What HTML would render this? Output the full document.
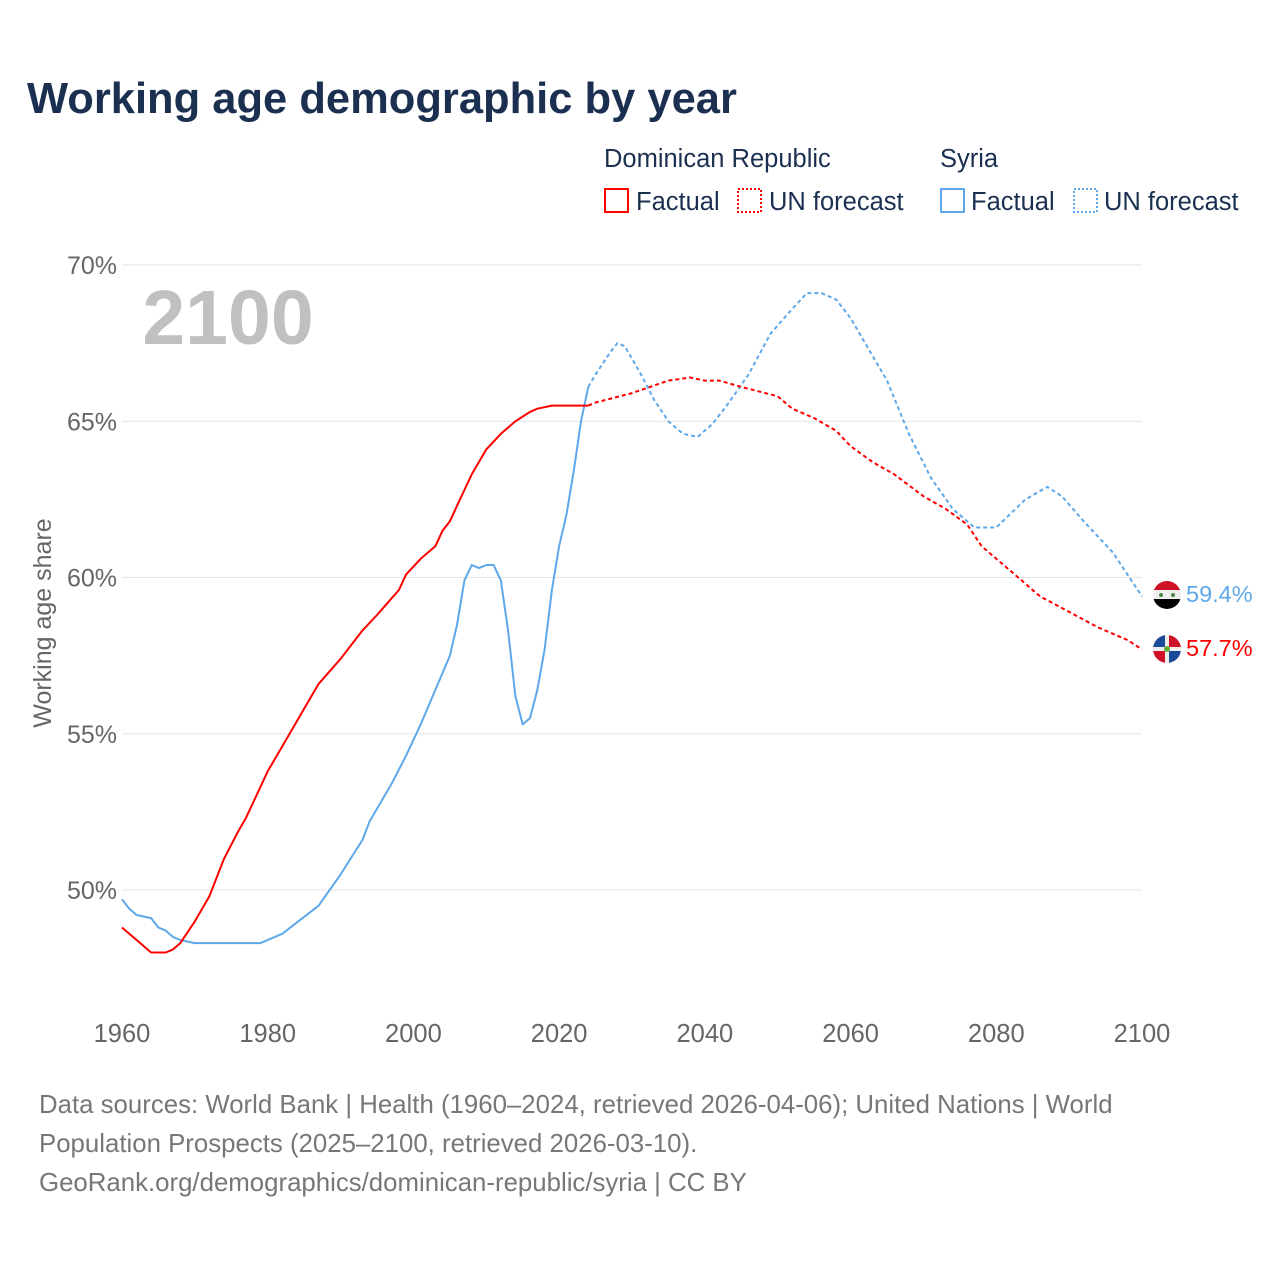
<!DOCTYPE html>
<html><head><meta charset="utf-8"><style>
body{margin:0;background:#fff;width:1280px;height:1280px;overflow:hidden;font-family:"Liberation Sans",sans-serif}
svg text{font-family:"Liberation Sans",sans-serif}
</style></head><body>
<svg id="chart" width="1280" height="1280">
<text x="27" y="113" font-size="43.5" font-weight="bold" fill="#1b3050">Working age demographic by year</text>
<g font-size="25.5" fill="#1b3050">
<text x="604" y="167">Dominican Republic</text>
<text x="940" y="167">Syria</text>
<g><rect x="605" y="189" width="23" height="23" fill="none" stroke="#f00" stroke-width="2"/><text x="636" y="210">Factual</text></g>
<g><rect x="738" y="189" width="23" height="23" fill="none" stroke="#f00" stroke-width="2" stroke-dasharray="2,2"/><text x="769" y="210">UN forecast</text></g>
<g><rect x="941" y="189" width="23" height="23" fill="none" stroke="#5ea8ea" stroke-width="2"/><text x="971" y="210">Factual</text></g>
<g><rect x="1074" y="189" width="23" height="23" fill="none" stroke="#5ea8ea" stroke-width="2" stroke-dasharray="2,2"/><text x="1104" y="210">UN forecast</text></g>
</g>
<text x="228" y="344" font-size="77" font-weight="bold" fill="#c0c0c0" text-anchor="middle">2100</text>
<text transform="translate(51,623) rotate(-90)" font-size="25" fill="#666" text-anchor="middle">Working age share</text>
<g id="grid"></g><g id="ticks"></g><g id="series"></g>
<g font-size="25.8" fill="#777">
<text x="39" y="1113">Data sources: World Bank | Health (1960–2024, retrieved 2026-04-06); United Nations | World</text>
<text x="39" y="1152">Population Prospects (2025–2100, retrieved 2026-03-10).</text>
<text x="39" y="1191">GeoRank.org/demographics/dominican-republic/syria | CC BY</text>
</g>
<defs><clipPath id="c1"><circle cx="1167" cy="595" r="14"/></clipPath><clipPath id="c2"><circle cx="1167" cy="649" r="14"/></clipPath></defs>
<g clip-path="url(#c1)"><rect x="1153" y="581" width="28" height="10" fill="#ce1126"/><rect x="1153" y="590" width="28" height="10" fill="#eee"/><rect x="1153" y="599" width="28" height="10" fill="#000"/><circle cx="1161" cy="595" r="2" fill="#4a8a4a"/><circle cx="1173" cy="595" r="2" fill="#4a8a4a"/></g>
<g clip-path="url(#c2)"><rect x="1153" y="635" width="28" height="28" fill="#eee"/><rect x="1153" y="635" width="12" height="12" fill="#1a4a9a"/><rect x="1169" y="635" width="12" height="12" fill="#ce1126"/><rect x="1153" y="651" width="12" height="12" fill="#ce1126"/><rect x="1169" y="651" width="12" height="12" fill="#1a4a9a"/><circle cx="1167" cy="649" r="3" fill="#6a3"/></g>
<text x="1186" y="602" font-size="23.5" fill="#5ea8ea">59.4%</text>
<text x="1186" y="656" font-size="23.5" fill="#f00">57.7%</text>
</svg>
<script>
const xTicks=[1960,1980,2000,2020,2040,2060,2080,2100];
const yTicks=[50,55,60,65,70];
const drFactYears=[1960,1962,1964,1966,1967,1968,1970,1972,1974,1976,1977,1980,1983,1985,1987,1990,1992,1993,1995,1998,1999,2001,2003,2004,2005,2006,2007,2008,2009,2010,2012,2014,2016,2017,2019,2024];
const drFactVals=[48.8,48.4,48.0,48.0,48.1,48.3,49.0,49.8,51.0,51.9,52.3,53.8,55.0,55.8,56.6,57.4,58.0,58.3,58.8,59.6,60.1,60.6,61.0,61.5,61.8,62.3,62.8,63.3,63.7,64.1,64.6,65.0,65.3,65.4,65.5,65.5];
const drFcYears=[2024,2025,2030,2035,2038,2040,2042,2045,2050,2052,2055,2058,2060,2063,2066,2070,2073,2076,2078,2082,2086,2090,2094,2098,2100];
const drFcVals=[65.5,65.6,65.9,66.3,66.4,66.3,66.3,66.1,65.8,65.4,65.1,64.7,64.2,63.7,63.3,62.6,62.2,61.7,61.0,60.2,59.4,58.9,58.4,58.0,57.7];
const syFactYears=[1960,1961,1962,1964,1965,1966,1967,1968,1970,1979,1982,1987,1990,1993,1994,1997,1999,2001,2003,2005,2006,2007,2008,2009,2010,2011,2012,2013,2014,2015,2016,2017,2018,2019,2020,2021,2022,2023,2024];
const syFactVals=[49.7,49.4,49.2,49.1,48.8,48.7,48.5,48.4,48.3,48.3,48.6,49.5,50.5,51.6,52.2,53.4,54.3,55.3,56.4,57.5,58.5,59.9,60.4,60.3,60.4,60.4,59.9,58.3,56.2,55.3,55.5,56.4,57.7,59.6,61.0,62.0,63.4,65.0,66.1];
const syFcYears=[2024,2025,2027,2028,2029,2031,2033,2035,2037,2039,2041,2043,2046,2049,2052,2054,2056,2058,2060,2063,2065,2068,2071,2074,2077,2080,2084,2087,2089,2092,2096,2098,2100];
const syFcVals=[66.1,66.5,67.2,67.5,67.4,66.6,65.7,65.0,64.6,64.5,64.9,65.5,66.5,67.8,68.6,69.1,69.1,68.9,68.3,67.1,66.3,64.6,63.2,62.2,61.6,61.6,62.5,62.9,62.6,61.8,60.8,60.1,59.4];
const X=y=>122+(y-1960)*1020/140;
const Y=v=>890-(v-50)*31.25;
const NS='http://www.w3.org/2000/svg';
const grid=document.getElementById('grid'),ticks=document.getElementById('ticks'),ser=document.getElementById('series');
yTicks.forEach(v=>{
 const l=document.createElementNS(NS,'line');
 l.setAttribute('x1',122);l.setAttribute('x2',1142);l.setAttribute('y1',Y(v));l.setAttribute('y2',Y(v));
 l.setAttribute('stroke','#e4e4e4');l.setAttribute('stroke-width',1);
 
 
 grid.appendChild(l);
 const t=document.createElementNS(NS,'text');
 t.setAttribute('x',117);t.setAttribute('y',Y(v)+9);t.setAttribute('text-anchor','end');
 t.setAttribute('font-size',25);t.setAttribute('fill','#666');t.textContent=v+'%';
 
 
 ticks.appendChild(t);
});
xTicks.forEach(v=>{
 const t=document.createElementNS(NS,'text');
 t.setAttribute('x',X(v));t.setAttribute('y',1042);t.setAttribute('text-anchor','middle');
 t.setAttribute('font-size',25.5);t.setAttribute('fill','#666');t.textContent=v;
 
 
 ticks.appendChild(t);
});
function line(xs,vs,color,dash,name){
 const p=document.createElementNS(NS,'path');
 p.setAttribute('d',xs.map((x,i)=>(i?'L':'M')+X(x).toFixed(1)+','+Y(vs[i]).toFixed(1)).join(''));
 p.setAttribute('fill','none');p.setAttribute('stroke',color);p.setAttribute('stroke-width',2);
 p.setAttribute('stroke-linejoin','round');
 if(dash)p.setAttribute('stroke-dasharray','4,3');
 
 
 ser.appendChild(p);
}
line(syFactYears,syFactVals,'#5ea8ea',false,'syria-factual-line');
line(syFcYears,syFcVals,'#5ea8ea',true,'syria-forecast-line');
line(drFactYears,drFactVals,'#ff0000',false,'dr-factual-line');
line(drFcYears,drFcVals,'#ff0000',true,'dr-forecast-line');
</script>
</body></html>
